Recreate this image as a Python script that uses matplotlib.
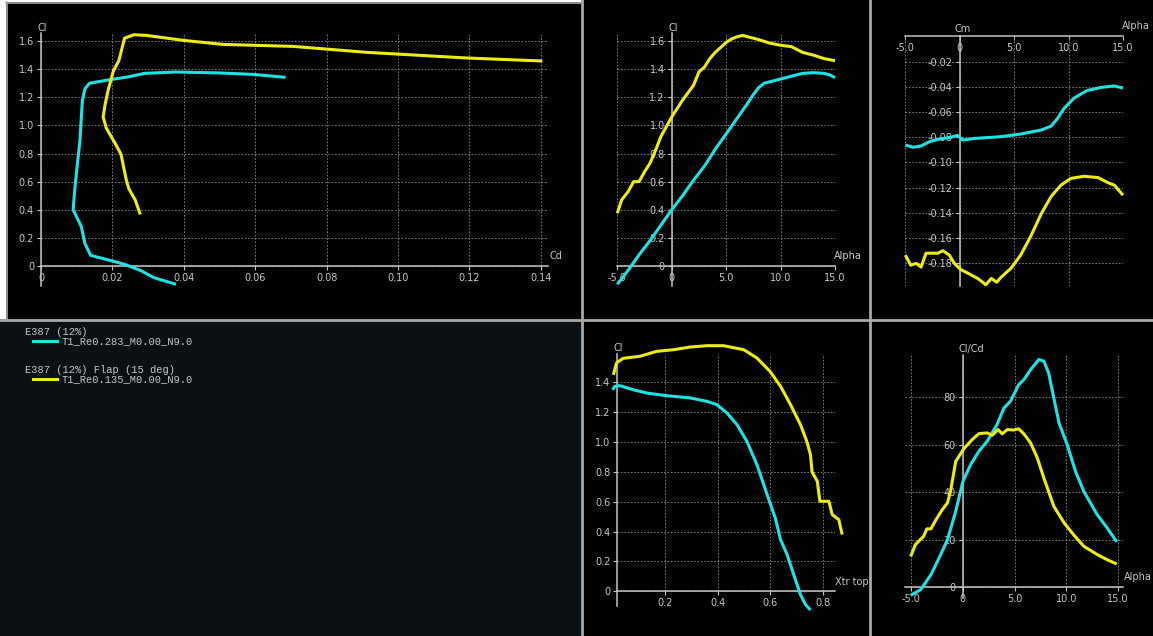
import matplotlib
matplotlib.use("Agg")
import matplotlib.pyplot as plt
from matplotlib.patches import Rectangle
from matplotlib.lines import Line2D

W, H = 1153, 636
CYAN = "#1fe3e3"
YELLOW = "#eded12"
TXT = "#c8c8c8"
GRID = "#8c8c8c"
AXIS = "#c4c4c4"
SEP = "#a8a8a8"

# ---- polar data ----
# E387 (12%)  T1_Re0.283_M0.00_N9.0  (cyan)
cy_cd = [0.0378, 0.0316, 0.0280, 0.0234, 0.0183, 0.0139, 0.0123, 0.0113, 0.0090,
         0.0095, 0.0103, 0.0109, 0.0113, 0.0116, 0.0123, 0.0136, 0.0193, 0.0244,
         0.0290, 0.0377, 0.0500, 0.0593, 0.0685]
cy_cl_drag = [-0.13, -0.083, -0.033, 0.012, 0.047, 0.076, 0.16, 0.28, 0.40, 0.56,
              0.75, 0.89, 1.06, 1.18, 1.26, 1.30, 1.325, 1.345, 1.37, 1.38, 1.373,
              1.363, 1.342]
cy_alpha = [-5, -4, -3, -2, -1, 0, 1, 2, 3, 4, 5, 6, 7, 7.5, 8, 8.5, 9, 10, 11, 12,
            13, 14, 14.5, 15]
cy_cl = [-0.13, -0.03, 0.08, 0.18, 0.29, 0.40, 0.50, 0.61, 0.71, 0.83, 0.94, 1.05,
         1.16, 1.22, 1.27, 1.30, 1.31, 1.33, 1.35, 1.37, 1.375, 1.37, 1.36, 1.34]
cy_cm_alpha = [-5, -4.3, -3.55, -2.8, -2.0, -0.8, -0.2, 0.3, 1.35, 3.8, 5.6, 7.5,
               8.4, 9.0, 9.6, 10.5, 11.7, 13.0, 14.2, 15]
cy_cm = [-0.0862, -0.088, -0.087, -0.0836, -0.0817, -0.080, -0.0786, -0.0823,
         -0.081, -0.0796, -0.0775, -0.0743, -0.0712, -0.065, -0.057, -0.049,
         -0.043, -0.0405, -0.0394, -0.041]
cy_xtr = [0.0, 0.009, 0.028, 0.079, 0.13, 0.206, 0.296, 0.36, 0.397, 0.436, 0.474,
          0.512, 0.55, 0.589, 0.62, 0.64, 0.665, 0.69, 0.716, 0.735, 0.754]
cy_cl_xtr = [1.35, 1.373, 1.377, 1.35, 1.328, 1.31, 1.295, 1.272, 1.25, 1.194, 1.116,
             1.004, 0.848, 0.647, 0.49, 0.346, 0.246, 0.112, -0.022, -0.089, -0.125]
cy_ld_alpha = [-5.06, -4.1, -3.1, -2.3, -1.5, -0.7, 0, 0.74, 1.55, 2.35, 3.3, 3.97,
               4.6, 5.4, 5.9, 6.55, 7.35, 7.84, 8.3, 8.8, 9.3, 10.1, 10.9, 11.7,
               13.0, 13.97, 14.9]
cy_ld = [-3.4, -1, 5.3, 12.4, 20, 32, 44.6, 51.6, 57.3, 61.5, 68.5, 75.5, 78.3,
         85.3, 87.4, 91.6, 95.9, 95.2, 90.2, 79.7, 69.2, 60, 48.8, 40.4, 30.6, 25,
         19.1]

# E387 (12%) Flap (15 deg)  T1_Re0.135_M0.00_N9.0  (yellow)
ye_cd = [0.0278, 0.0264, 0.0246, 0.0239, 0.0224, 0.0206, 0.0183, 0.0174, 0.0180,
         0.0188, 0.0203, 0.0218, 0.0234, 0.0260, 0.0295, 0.0398, 0.0510, 0.0706,
         0.0910, 0.1188, 0.1404]
ye_cl_drag = [0.367, 0.469, 0.55, 0.61, 0.795, 0.88, 0.98, 1.06, 1.155, 1.25, 1.39,
              1.46, 1.62, 1.645, 1.64, 1.605, 1.576, 1.562, 1.52, 1.48, 1.458]
ye_alpha = [-5, -4.6, -4, -3.5, -3, -2.5, -2, -1.5, -1, 0, 1, 2, 2.5, 3, 3.5, 4, 5,
            5.5, 6, 6.5, 7, 8, 9, 10, 11, 12, 13, 14, 15]
ye_cl = [0.375, 0.47, 0.53, 0.60, 0.60, 0.67, 0.73, 0.82, 0.92, 1.06, 1.18, 1.285,
         1.38, 1.415, 1.475, 1.52, 1.59, 1.615, 1.63, 1.64, 1.63, 1.61, 1.585, 1.57,
         1.56, 1.52, 1.50, 1.475, 1.46]
ye_cm_alpha = [-5, -4.5, -4.0, -3.55, -3.1, -2.0, -1.55, -0.95, -0.5, 0.1, 0.7, 1.65,
               2.4, 2.9, 3.4, 3.8, 4.7, 5.6, 6.5, 7.5, 8.4, 9.3, 10.2, 11.4, 12.7,
               13.6, 14.2, 15]
ye_cm = [-0.1735, -0.1815, -0.180, -0.183, -0.172, -0.172, -0.170, -0.1735, -0.180,
         -0.185, -0.1876, -0.192, -0.197, -0.192, -0.195, -0.191, -0.184, -0.1735,
         -0.159, -0.1405, -0.127, -0.118, -0.1127, -0.111, -0.112, -0.116, -0.118,
         -0.126]
ye_xtr = [0.003, 0.015, 0.04, 0.104, 0.168, 0.232, 0.296, 0.36, 0.423, 0.50, 0.55,
          0.60, 0.64, 0.678, 0.716, 0.74, 0.754, 0.76, 0.78, 0.79, 0.824, 0.837,
          0.862, 0.875]
ye_cl_xtr = [1.45, 1.53, 1.56, 1.574, 1.607, 1.618, 1.636, 1.645, 1.645, 1.618,
             1.5625, 1.473, 1.373, 1.25, 1.116, 1.004, 0.915, 0.80, 0.737, 0.603,
             0.603, 0.513, 0.48, 0.38]
ye_ld_alpha = [-5.06, -4.6, -3.8, -3.5, -3.1, -2.6, -2.0, -1.5, -1.2, -0.7, 0.1, 0.9,
               1.55, 2.35, 2.84, 3.4, 3.8, 4.3, 4.9, 5.4, 5.9, 6.55, 7.2, 7.84, 8.8,
               9.8, 10.7, 11.7, 13.0, 13.97, 14.9]
ye_ld = [13, 18, 21.5, 24.6, 24.6, 28.5, 32.7, 35.5, 40.4, 53, 58.4, 62.2, 64.7, 65,
         64, 66.4, 64.6, 66.4, 66.2, 66.7, 64.6, 60.8, 54.5, 46, 34.1, 27.1, 22.2,
         17.3, 13.8, 11.6, 9.8]

# ---- tick labels ----
cd_ticks = [0, 0.02, 0.04, 0.06, 0.08, 0.10, 0.12, 0.14]
cd_labels = ["0", "0.02", "0.04", "0.06", "0.08", "0.10", "0.12", "0.14"]
cl_ticks = [0, 0.2, 0.4, 0.6, 0.8, 1.0, 1.2, 1.4, 1.6]
cl_labels = ["0", "0.2", "0.4", "0.6", "0.8", "1.0", "1.2", "1.4", "1.6"]
alpha_ticks = [-5, 0, 5, 10, 15]
alpha_labels = ["-5.0", "0", "5.0", "10.0", "15.0"]
cm_ticks = [-0.02, -0.04, -0.06, -0.08, -0.10, -0.12, -0.14, -0.16, -0.18]
cm_labels = ["-0.02", "-0.04", "-0.06", "-0.08", "-0.10", "-0.12", "-0.14",
             "-0.16", "-0.18"]
xtr_ticks = [0.2, 0.4, 0.6, 0.8]
xtr_labels = ["0.2", "0.4", "0.6", "0.8"]
ld_ticks = [0, 20, 40, 60, 80]
ld_labels = ["0", "20", "40", "60", "80"]

legend_groups = ["E387 (12%)", "E387 (12%) Flap (15 deg)"]
legend_names = ["T1_Re0.283_M0.00_N9.0", "T1_Re0.135_M0.00_N9.0"]
legend_colors = [CYAN, YELLOW]


fig = plt.figure(figsize=(W / 100, H / 100), dpi=100, facecolor="black")


def box(l, t, r, b):
    return [l / W, 1 - b / H, (r - l) / W, (b - t) / H]


def ftext(x, y, s, **kw):
    kw.setdefault("color", TXT)
    kw.setdefault("fontsize", 7)
    fig.text(x / W, 1 - y / H, s, **kw)


def fline(x0, x1, y0, y1, **kw):
    fig.add_artist(Line2D([x0 / W, x1 / W], [1 - y0 / H, 1 - y1 / H],
                          transform=fig.transFigure, **kw))


# background panels and separators
fig.add_artist(Rectangle((0, 1 - 319 / H), 6 / W, 319 / H, transform=fig.transFigure,
                         facecolor="white", edgecolor="none", zorder=-2))
fig.add_artist(Rectangle((0, 1 - 2 / H), 582 / W, 2 / H, transform=fig.transFigure,
                         facecolor="white", edgecolor="none", zorder=-2))
fig.add_artist(Rectangle((0, 0), 582 / W, 316 / H, transform=fig.transFigure,
                         facecolor="#0b1015", edgecolor="none", zorder=-2))
fline(7, 7, 2, 319, color=SEP, lw=1.2, zorder=5)
fline(6, 582, 2.5, 2.5, color=SEP, lw=1.2, zorder=5)
fline(582, 582, 0, H, color=SEP, lw=2.0, zorder=5)
fline(870, 870, 0, H, color=SEP, lw=2.0, zorder=5)
fline(0, W, 319.5, 319.5, color=SEP, lw=2.0, zorder=5)


def polar_axes(rect, xlim, ylim, xt, xl, yt, yl, ypos=("data", 0)):
    ax = fig.add_axes(box(*rect))
    ax.set_facecolor("none")
    ax.set_xlim(xlim)
    ax.set_ylim(ylim)
    for s in ("top", "right"):
        ax.spines[s].set_visible(False)
    ax.spines["left"].set_position(ypos)
    ax.spines["bottom"].set_position(("data", 0))
    for s in ("left", "bottom"):
        ax.spines[s].set_color(AXIS)
        ax.spines[s].set_linewidth(1.1)
    ax.set_xticks(xt, xl)
    ax.set_yticks(yt, yl)
    ax.tick_params(colors=AXIS, labelcolor=TXT, labelsize=7, length=3, width=0.8, pad=2)
    gl = dict(color=GRID, linestyle=(0, (2, 2)), linewidth=0.6, zorder=1)
    ax.grid(True, axis="y", **gl)
    # vertical grid lines run from the x axis upward (xflr5 style)
    lo = 0 if ylim[0] < 0 < ylim[1] else ylim[0]
    ax.vlines(xt, lo, ylim[1], **gl)
    ax.set_axisbelow(True)
    return ax


def curve(ax, x, y, c):
    ax.plot(x, y, color=c, lw=2.2, clip_on=False, solid_joinstyle="round",
            solid_capstyle="butt", zorder=3)


# Cl vs Cd
ax1 = polar_axes((41, 32.6, 548, 285.7), (0, 0.142), (-0.14, 1.66),
                 cd_ticks, cd_labels, cl_ticks, cl_labels)
curve(ax1, cy_cd, cy_cl_drag, CYAN)
curve(ax1, ye_cd, ye_cl_drag, YELLOW)
ftext(42, 28, "Cl", ha="center", va="center")
ftext(556, 256, "Cd", ha="center", va="center")

# Cl vs Alpha
ax2 = polar_axes((617.3, 32.6, 835, 285.7), (-5, 15), (-0.14, 1.66),
                 alpha_ticks, alpha_labels, cl_ticks, cl_labels)
curve(ax2, cy_alpha, cy_cl, CYAN)
curve(ax2, ye_alpha, ye_cl, YELLOW)
ftext(673, 28, "Cl", ha="center", va="center")
ftext(848, 256, "Alpha", ha="center", va="center")

# Cm vs Alpha
ax3 = polar_axes((905.3, 36.3, 1123, 286), (-5, 15), (-0.198, 0),
                 alpha_ticks, alpha_labels, cm_ticks, cm_labels)
curve(ax3, cy_cm_alpha, cy_cm, CYAN)
curve(ax3, ye_cm_alpha, ye_cm, YELLOW)
ftext(963, 29, "Cm", ha="center", va="center")
ftext(1136, 26, "Alpha", ha="center", va="center")

# Cl vs Xtr top
ax4 = polar_axes((617.3, 353.9, 834.6, 606.2), (0.018, 0.846), (-0.1, 1.59),
                 xtr_ticks, xtr_labels, cl_ticks[:-1], cl_labels[:-1],
                 ypos=("axes", 0))
curve(ax4, cy_xtr, cy_cl_xtr, CYAN)
curve(ax4, ye_xtr, ye_cl_xtr, YELLOW)
ftext(618, 348, "Cl", ha="center", va="center")
ftext(852, 582, "Xtr top", ha="center", va="center")

# Cl/Cd vs Alpha
ax5 = polar_axes((905.1, 354.5, 1123, 598), (-5.6, 15.5), (-4.5, 98),
                 alpha_ticks, alpha_labels, ld_ticks, ld_labels)
curve(ax5, cy_ld_alpha, cy_ld, CYAN)
curve(ax5, ye_ld_alpha, ye_ld, YELLOW)
ftext(971, 349, "Cl/Cd", ha="center", va="center")
ftext(1138, 577, "Alpha", ha="center", va="center")

# legend panel
for i, (grp, name, col) in enumerate(zip(legend_groups, legend_names, legend_colors)):
    y0 = 332 + i * 38
    ftext(25, y0, grp, family="Liberation Mono", fontsize=7.5, va="center")
    fline(33, 57, y0 + 9, y0 + 9, color=col, lw=2.2)
    ftext(62, y0 + 9, name, family="Liberation Mono", fontsize=7.5, va="center")

fig.savefig("out.png", dpi=100, facecolor=fig.get_facecolor())
